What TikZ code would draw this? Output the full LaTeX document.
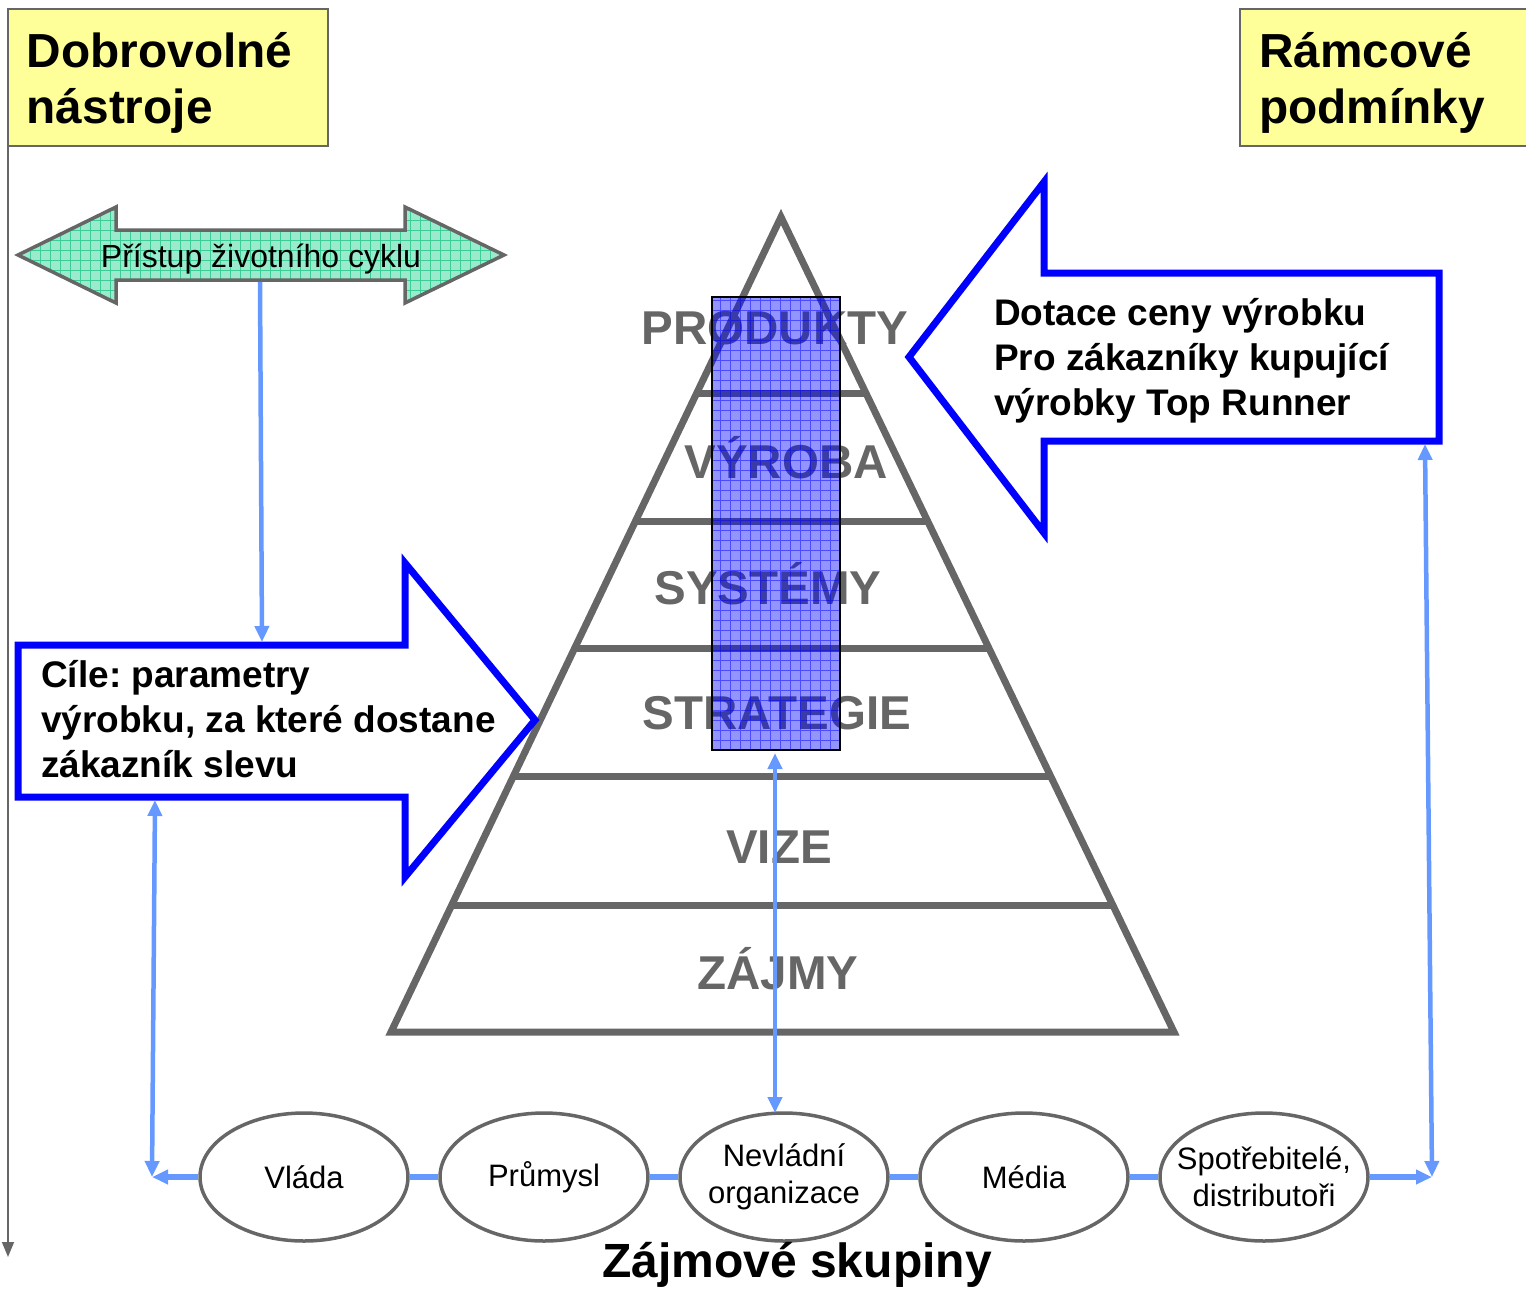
\documentclass[tikz,border=0pt]{standalone}
\usepackage{fontspec}
\setmainfont{Liberation Sans}
\usetikzlibrary{arrows.meta,shapes.geometric,calc}
\definecolor{yfill}{RGB}{255,255,153}
\definecolor{dgray}{RGB}{102,102,102}
\definecolor{lblue}{RGB}{102,153,255}
\definecolor{gfill}{RGB}{155,234,205}
\definecolor{ggrid}{RGB}{60,205,150}
\tikzset{bt/.tip={Triangle[length=16pt,width=14pt]}}
\frenchspacing
\begin{document}
\begin{tikzpicture}[x=1pt,y=-1pt,
  yellowbox/.style={draw=dgray,line width=2pt,fill=yfill},
  bigtxt/.style={font=\fontsize{47.8}{56}\selectfont\bfseries,align=left,anchor=base west,inner sep=0pt},
  midtxt/.style={font=\fontsize{37}{45}\selectfont\bfseries,align=left,anchor=base west,inner sep=0pt},
  pyrtxt/.style={font=\fontsize{47.5}{50}\selectfont\bfseries,text=dgray,anchor=base,inner sep=0pt},
  pyr/.style={draw=dgray,line width=7pt,line join=miter},
  blockarrow/.style={draw=blue,line width=7pt,fill=white,line join=miter},
  ell/.style={ellipse,draw=dgray,line width=3.5pt,fill=white,minimum width=208pt,minimum height=128pt,inner sep=-30pt,align=center,font=\fontsize{31}{37}\selectfont},
  lbl/.style={draw=lblue,line width=4.5pt},
  lblthick/.style={draw=lblue,line width=6pt}]
\useasboundingbox (0,0) rectangle (1526,1288);

% yellow title boxes
\draw[yellowbox] (8,9) rectangle (328,146);
\node[bigtxt] (dobro) at (26.5,123) {Dobrovolné\\nástroje};
\draw[yellowbox] (1240,9) rectangle (1540,146);
\node[bigtxt] (ramc) at (1259,123) {Rámcové\\podmínky};

% left vertical line
\coordinate (vtop) at (8,146);
\coordinate (vbot) at (8,1257);
\draw[dgray,line width=1.6pt,-{Triangle[length=15pt,width=12pt]}] (vtop) -- (vbot);

% green double arrow
\begin{scope}
\clip (18,255) -- (116,207) -- (116,230) -- (405,230) -- (405,207) -- (504,255) -- (405,303) -- (405,280) -- (116,280) -- (116,303) -- cycle;
\fill[gfill] (0,195) rectangle (520,315);
\draw[ggrid,line width=0.6pt,step=10pt] (10,195) grid (520,315);
\end{scope}
\draw[dgray,line width=3.5pt,line join=miter] (18,255) -- (116,207) -- (116,230) -- (405,230) -- (405,207) -- (504,255) -- (405,303) -- (405,280) -- (116,280) -- (116,303) -- cycle;
\node[inner sep=0pt,anchor=base,font=\fontsize{32}{36}\selectfont] (lca) at (261,267) {Přístup životního cyklu};

% pyramid
\coordinate (apex) at (781,217);
\coordinate (bl) at (391,1032);
\coordinate (br) at (1174,1032);
\draw[pyr] (apex) -- (br) -- (bl) -- cycle;
\foreach \t in {0.216,0.373,0.530,0.687,0.845}
  \draw[pyr] ($(apex)!\t!(bl)$) -- ($(apex)!\t!(br)$);
\node[pyrtxt] (produkty) at (775,344) {PRODUKTY};
\node[pyrtxt] (vyroba) at (786,478) {VÝROBA};
\node[pyrtxt] (systemy) at (768,604) {SYSTÉMY};
\node[pyrtxt] (strategie) at (777,729) {STRATEGIE};
\node[pyrtxt] (vize) at (779,863) {VIZE};
\node[pyrtxt] (zajmy) at (778,989) {ZÁJMY};

% blue translucent column
\begin{scope}
\clip (712,297) rectangle (840,750);
\fill[blue,fill opacity=0.42] (712,297) rectangle (840,750);
\draw[blue,opacity=0.5,line width=0.6pt,step=10pt] (700,290) grid (850,760);
\end{scope}
\node[draw=black,line width=1.6pt,minimum width=128pt,minimum height=453pt,inner sep=0pt] (col) at (776,523.5) {};

% block arrows
\draw[blockarrow] (18,645) -- (405,645) -- (405,563) -- (535,720) -- (405,877) -- (405,797) -- (18,797) -- cycle;
\node[midtxt] (cile) at (41,777) {Cíle: parametry\\výrobku, za které dostane\\zákazník slevu};
\draw[blockarrow] (1439,273) -- (1439,441) -- (1044,441) -- (1044,533) -- (909,357) -- (1044,182) -- (1044,273) -- cycle;
\node[midtxt] (dotace) at (994,415) {Dotace ceny výrobku\\Pro zákazníky kupující\\výrobky Top Runner};

% stakeholder ellipses
\node[ell] (vlada) at (304,1177) {Vláda};
\node[ell] (prum) at (544,1177) {Průmysl};
\node[ell] (nevl) at (784,1177) {Nevládní\\organizace};
\node[ell] (media) at (1024,1177) {Média};
\node[ell] (spotr) at (1264,1177) {Spotřebitelé,\\distributoři};
\node[inner sep=0pt,anchor=base,font=\fontsize{48}{56}\selectfont\bfseries] (zajm) at (797,1277) {Zájmové skupiny};

% light blue connectors
\draw[lblthick] (vlada.east) -- (prum.west);
\draw[lblthick] (prum.east) -- (nevl.west);
\draw[lblthick] (nevl.east) -- (media.west);
\draw[lblthick] (media.east) -- (spotr.west);
\coordinate (lc) at (152,1177);
\coordinate (rc) at (1432,1177);
\draw[lblthick,-bt] (vlada.west) -- (lc);
\draw[lblthick,-bt] (spotr.east) -- (rc);

\coordinate (g1) at (260,282);
\coordinate (c1) at (262,642);
\draw[lbl,-bt] (g1) -- (c1);

\coordinate (lt) at (155,800);
\draw[lbl,bt-bt] (lt) -- (lc);
\coordinate (rt) at (1425,444);
\draw[lbl,bt-bt] (rt) -- (rc);
\coordinate (va) at (775,753);
\coordinate (vb) at (775,1113);
\draw[lbl,bt-bt] (va) -- (vb);
\end{tikzpicture}
\end{document}
